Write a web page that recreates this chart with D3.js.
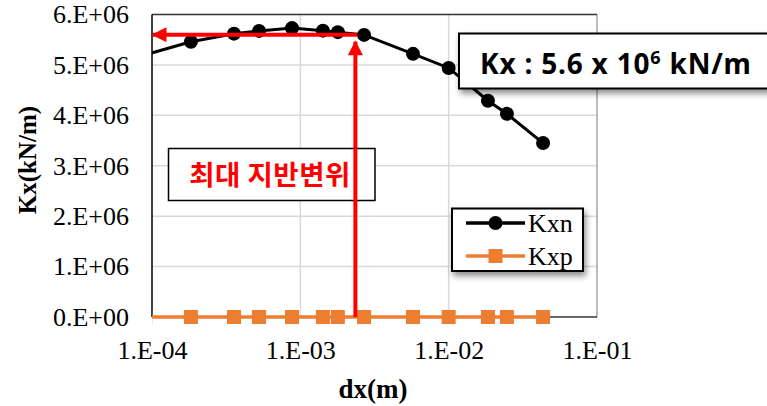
<!DOCTYPE html>
<html>
<head>
<meta charset="utf-8">
<script src="https://cdn.jsdelivr.net/npm/d3@7"></script>
<style>
  html, body { margin: 0; padding: 0; background: #fff; }
  svg { display: block; }
</style>
</head>
<body>
<svg id="chart" width="767" height="406"></svg>
<script>
// Displacement (m) at each load step; first step lies just left of the axis range
const dx = [9e-5, 1.83e-4, 3.57e-4, 5.27e-4, 8.79e-4, 1.42e-3, 1.79e-3, 2.69e-3, 5.75e-3, 1.0e-2, 1.84e-2, 2.47e-2, 4.33e-2];
// Horizontal stiffness, negative direction (kN/m)
const kxn = [5.2e6, 5.46e6, 5.62e6, 5.675e6, 5.73e6, 5.68e6, 5.65e6, 5.595e6, 5.22e6, 4.94e6, 4.29e6, 4.03e6, 3.45e6];
// Horizontal stiffness, positive direction (kN/m)
const kxp = [0, 0, 0, 0, 0, 0, 0, 0, 0, 0, 0, 0, 0];

const xTicks = [1e-4, 1e-3, 1e-2, 1e-1];
const xTickLabels = ["1.E-04", "1.E-03", "1.E-02", "1.E-01"];
const yTicks = [0, 1e6, 2e6, 3e6, 4e6, 5e6, 6e6];
const yTickLabels = ["0.E+00", "1.E+06", "2.E+06", "3.E+06", "4.E+06", "5.E+06", "6.E+06"];

// Peak ground displacement marker and the stiffness read at it
const peakDx = 2.35e-3;
const peakKx = 5.6e6;

const seriesNames = ["Kxn", "Kxp"];
const seriesColors = ["#000000", "#ED7D31"];

const svg = d3.select("#chart");
const plot = { left: 152, right: 597, top: 14.5, bottom: 317 };

const x = d3.scaleLog().domain([1e-4, 1e-1]).range([plot.left, plot.right]);
const y = d3.scaleLinear().domain([0, 6e6]).range([plot.bottom, plot.top]);

const serif = "'Liberation Serif', 'Times New Roman', serif";

const defs = svg.append("defs");
defs.append("clipPath").attr("id", "plotClip")
  .append("rect")
  .attr("x", plot.left).attr("y", plot.top - 10)
  .attr("width", plot.right - plot.left).attr("height", plot.bottom - plot.top + 20);

const shadow = defs.append("filter").attr("id", "shadow")
  .attr("x", "-20%").attr("y", "-30%").attr("width", "150%").attr("height", "180%");
shadow.append("feGaussianBlur").attr("in", "SourceAlpha").attr("stdDeviation", 3).attr("result", "b");
shadow.append("feOffset").attr("in", "b").attr("dx", 2).attr("dy", 4).attr("result", "o");
shadow.append("feComponentTransfer").attr("in", "o").attr("result", "s")
  .append("feFuncA").attr("type", "linear").attr("slope", 0.45);
const merge = shadow.append("feMerge");
merge.append("feMergeNode").attr("in", "s");
merge.append("feMergeNode").attr("in", "SourceGraphic");

const arrowMarker = defs.append("marker").attr("id", "arrowRed")
  .attr("viewBox", "0 0 10 10").attr("refX", 9).attr("refY", 5)
  .attr("markerUnits", "userSpaceOnUse")
  .attr("markerWidth", 16).attr("markerHeight", 15)
  .attr("orient", "auto");
arrowMarker.append("path").attr("d", "M0,0 L10,5 L0,10 Z").attr("fill", "#FF0000");

// Gridlines
svg.append("g").selectAll("line.gx")
  .data(xTicks.slice(1, -1)).join("line")
  .attr("x1", d => x(d)).attr("x2", d => x(d))
  .attr("y1", plot.top).attr("y2", plot.bottom)
  .attr("stroke", "#d9d9d9").attr("stroke-width", 1.5);
svg.append("g").selectAll("line.gy")
  .data(yTicks.slice(1, -1)).join("line")
  .attr("x1", plot.left).attr("x2", plot.right)
  .attr("y1", d => y(d)).attr("y2", d => y(d))
  .attr("stroke", "#d9d9d9").attr("stroke-width", 1.5);

// Plot frame
svg.append("line").attr("x1", plot.right).attr("x2", plot.right)
  .attr("y1", plot.top).attr("y2", plot.bottom)
  .attr("stroke", "#a6a6a6").attr("stroke-width", 1.5);
svg.append("line").attr("x1", plot.left).attr("x2", plot.right)
  .attr("y1", plot.top).attr("y2", plot.top)
  .attr("stroke", "#333").attr("stroke-width", 1.5);
svg.append("line").attr("x1", plot.left).attr("x2", plot.right)
  .attr("y1", plot.bottom).attr("y2", plot.bottom)
  .attr("stroke", "#333").attr("stroke-width", 1.5);
svg.append("line").attr("x1", plot.left).attr("x2", plot.left)
  .attr("y1", plot.top).attr("y2", plot.bottom)
  .attr("stroke", "#000").attr("stroke-width", 1.5);

// Axes (labels only, Excel-style)
const xAxis = d3.axisBottom(x).tickValues(xTicks)
  .tickFormat((d, i) => xTickLabels[i]).tickSize(0).tickPadding(24);
const gx = svg.append("g").attr("transform", `translate(0,${plot.bottom})`).call(xAxis);
gx.select(".domain").remove();
gx.selectAll("text").attr("font-family", serif).attr("font-size", 26).attr("fill", "#000");

const yAxis = d3.axisLeft(y).tickValues(yTicks)
  .tickFormat((d, i) => yTickLabels[i]).tickSize(0).tickPadding(23);
const gy = svg.append("g").attr("transform", `translate(${plot.left},0)`).call(yAxis);
gy.select(".domain").remove();
gy.selectAll("text").attr("font-family", serif).attr("font-size", 26).attr("fill", "#000");

// Axis titles
svg.append("text").attr("x", 373).attr("y", 398)
  .attr("text-anchor", "middle").attr("font-family", serif)
  .attr("font-weight", "bold").attr("font-size", 27).text("dx(m)");
svg.append("text")
  .attr("transform", "translate(36,160) rotate(-90)")
  .attr("text-anchor", "middle").attr("font-family", serif)
  .attr("font-weight", "bold").attr("font-size", 25).text("Kx(kN/m)");

// Series
const line = d3.line().x(d => x(d[0])).y(d => y(d[1]));
const marksG = svg.append("g").attr("clip-path", "url(#plotClip)");

// Kxp (drawn first, sits on the baseline)
marksG.append("path")
  .datum(dx.map((d, i) => [d, kxp[i]]))
  .attr("d", line).attr("fill", "none")
  .attr("stroke", seriesColors[1]).attr("stroke-width", 3.5);
marksG.selectAll("rect.kxp")
  .data(dx.map((d, i) => [d, kxp[i]])).join("rect")
  .attr("x", d => x(d[0]) - 7).attr("y", d => y(d[1]) - 7)
  .attr("width", 14).attr("height", 14)
  .attr("fill", seriesColors[1]);

// Peak displacement annotation arrows
svg.append("line")
  .attr("x1", x(peakDx)).attr("x2", x(peakDx))
  .attr("y1", y(0)).attr("y2", y(peakKx) + 7)
  .attr("stroke", "#FF0000").attr("stroke-width", 4)
  .attr("marker-end", "url(#arrowRed)");
svg.append("line")
  .attr("x1", x(peakDx) + 2).attr("x2", plot.left + 1)
  .attr("y1", y(peakKx)).attr("y2", y(peakKx))
  .attr("stroke", "#FF0000").attr("stroke-width", 4)
  .attr("marker-end", "url(#arrowRed)");

// Kxn
marksG.append("path")
  .datum(dx.map((d, i) => [d, kxn[i]]))
  .attr("d", line).attr("fill", "none")
  .attr("stroke", seriesColors[0]).attr("stroke-width", 3);
marksG.selectAll("circle.kxn")
  .data(dx.map((d, i) => [d, kxn[i]])).join("circle")
  .attr("cx", d => x(d[0])).attr("cy", d => y(d[1]))
  .attr("r", 7).attr("fill", seriesColors[0]);

// Callout: peak ground displacement
svg.append("rect").attr("x", 168.5).attr("y", 148.5)
  .attr("width", 206.5).attr("height", 52)
  .attr("fill", "#fff").attr("stroke", "#000").attr("stroke-width", 1.5);
svg.append("text").attr("x", 270).attr("y", 185)
  .attr("text-anchor", "middle")
  .attr("font-family", "'Noto Sans CJK KR', sans-serif")
  .attr("font-weight", "bold").attr("font-size", 27.5)
  .attr("letter-spacing", 0.5)
  .attr("fill", "#FF0000").text("최대 지반변위");
// the vertical arrow passes over the callout
svg.append("line")
  .attr("x1", x(peakDx)).attr("x2", x(peakDx))
  .attr("y1", 148).attr("y2", 202)
  .attr("stroke", "#FF0000").attr("stroke-width", 4);

// Callout: stiffness value
svg.append("rect").attr("x", 459).attr("y", 33.5)
  .attr("width", 330).attr("height", 55)
  .attr("fill", "#fff").attr("stroke", "#000").attr("stroke-width", 2)
  .attr("filter", "url(#shadow)");
const kxText = svg.append("text").attr("x", 480).attr("y", 74)
  .attr("font-family", "'Noto Sans', 'Open Sans', sans-serif")
  .attr("font-weight", "bold").attr("font-size", 28).attr("letter-spacing", 0.8)
  .attr("fill", "#000");
kxText.append("tspan").text("Kx : 5.6 x 10");
kxText.append("tspan").attr("font-size", 18).attr("dy", -10).text("6");
kxText.append("tspan").attr("dy", 10).text(" kN/m");

// Legend
const lg = svg.append("g");
lg.append("rect").attr("x", 452).attr("y", 208.5)
  .attr("width", 131).attr("height", 62.5)
  .attr("fill", "#fff").attr("stroke", "#000").attr("stroke-width", 2)
  .attr("filter", "url(#shadow)");
const legendRows = [223, 256];
seriesNames.forEach((name, i) => {
  const ly = legendRows[i];
  lg.append("line").attr("x1", 466).attr("x2", 525)
    .attr("y1", ly).attr("y2", ly)
    .attr("stroke", seriesColors[i]).attr("stroke-width", 3.5);
  if (i === 0) {
    lg.append("circle").attr("cx", 495.5).attr("cy", ly).attr("r", 7).attr("fill", seriesColors[i]);
  } else {
    lg.append("rect").attr("x", 488.5).attr("y", ly - 7).attr("width", 14).attr("height", 14)
      .attr("fill", seriesColors[i]);
  }
  lg.append("text").attr("x", 528).attr("y", ly + 9)
    .attr("font-family", serif).attr("font-size", 26).text(name);
});
</script>
</body>
</html>
